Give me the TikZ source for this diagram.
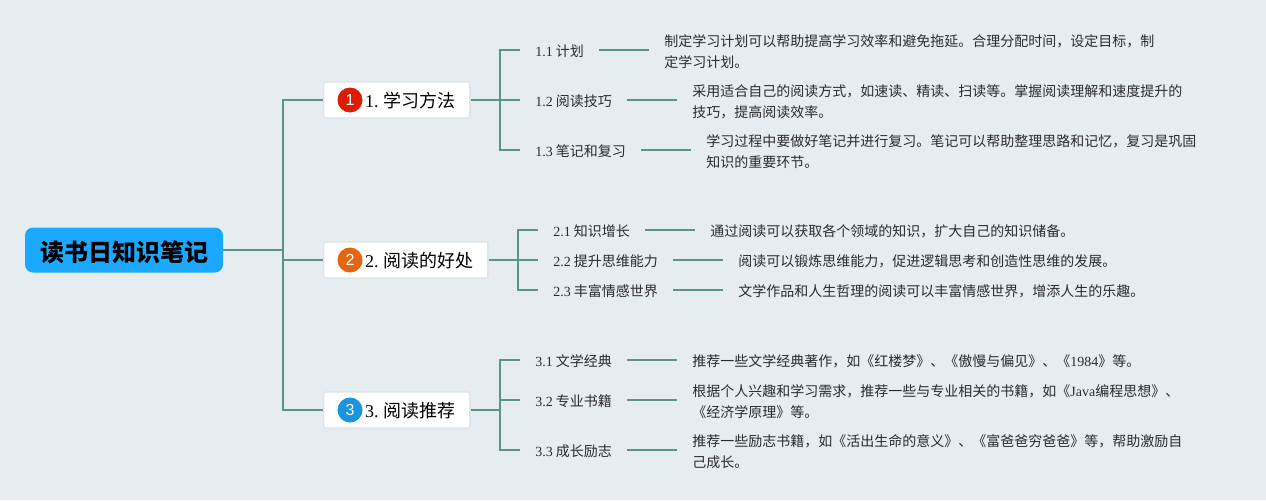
\documentclass[tikz,border=0pt]{standalone}
\usepackage{fontspec}
\usepackage{xcolor}
\usepackage{tikz}
\usetikzlibrary{
positioning,
calc
}
\setmainfont{Noto Sans CJK SC}
\newfontfamily\latinfont{Liberation Serif}
\newfontfamily\badgefont{Liberation Sans}
\newcommand{\lat}[1]{{\latinfont #1}}
\definecolor{bgcolor}{HTML}{E5EDF1}
\definecolor{linecolor}{HTML}{5B9485}
\definecolor{rootcolor}{HTML}{1BA9FF}
\definecolor{textcolor}{HTML}{2B2B2B}
\definecolor{bordercolor}{HTML}{DDE3E6}
\definecolor{badgered}{HTML}{DD1C05}
\definecolor{badgeorange}{HTML}{E4660F}
\definecolor{badgeblue}{HTML}{1A94DC}

\begin{document}
\begin{tikzpicture}[
x=0.75pt,y=-0.75pt,
node distance=37.5pt,
root/.style={
fill=rootcolor,
rounded corners=6pt,
minimum width=148.5pt,
minimum height=33.75pt,
inner sep=0pt,
text height=19pt,
text depth=2pt,
text=black,
font=\fontsize{18}{22}\selectfont\bfseries
},
topic/.style={
draw=bordercolor,
line width=1pt,
fill=white,
rounded corners=1.5pt,
anchor=west,
minimum height=27pt,
inner xsep=10.5pt,
inner ysep=0pt,
text height=13.5pt,
text depth=2pt,
text=black,
font=\fontsize{13.5}{16}\selectfont
},
badge/.style={
circle,
minimum size=18.75pt,
inner sep=0pt,
text=white,
font=\badgefont\fontsize{12}{12}\selectfont
},
sub/.style={
anchor=west,
inner xsep=11.25pt,
inner ysep=0pt,
text height=11.5pt,
text depth=2pt,
text=textcolor,
font=\fontsize{10.5}{14}\selectfont
},
detail/.style={
inner xsep=11.25pt,
inner ysep=0pt,
yshift=-1pt,
align=left,
text=textcolor,
font=\fontsize{10.5}{15.75}\selectfont
},
link/.style={draw=linecolor,line width=1.7pt}
]

\fill[bgcolor] (0,0) rectangle (1266,500);
\useasboundingbox (0,0) rectangle (1266,500);

\node[root] (root) at (124,250) {读书日知识笔记};

\node[topic] (study) at (323,100) {\hspace{20.5pt}\lat{1.} 学习方法};
\node[topic] (benefit) at (323,260) {\hspace{20.5pt}\lat{2.} 阅读的好处};
\node[topic] (books) at (323,410) {\hspace{20.5pt}\lat{3.} 阅读推荐};

\node[badge,fill=badgered] (badgeone) at (350,100) {1};
\node[badge,fill=badgeorange] (badgetwo) at (350,260) {2};
\node[badge,fill=badgeblue] (badgethree) at (350,410) {3};

\node[sub] (plan) at (520,50) {\lat{1.1} 计划};
\node[sub] (skill) at (520,100) {\lat{1.2} 阅读技巧};
\node[sub] (notes) at (520,150) {\lat{1.3} 笔记和复习};
\node[sub] (growth) at (538,230) {\lat{2.1} 知识增长};
\node[sub] (thinking) at (538,260) {\lat{2.2} 提升思维能力};
\node[sub] (emotion) at (538,290) {\lat{2.3} 丰富情感世界};
\node[sub] (classic) at (520,360) {\lat{3.1} 文学经典};
\node[sub] (major) at (520,400) {\lat{3.2} 专业书籍};
\node[sub] (inspire) at (520,450) {\lat{3.3} 成长励志};

\node[detail,right=of plan] (plantext) {制定学习计划可以帮助提高学习效率和避免拖延。合理分配时间，设定目标，制\\定学习计划。};
\node[detail,right=of skill] (skilltext) {采用适合自己的阅读方式，如速读、精读、扫读等。掌握阅读理解和速度提升的\\技巧，提高阅读效率。};
\node[detail,right=of notes] (notestext) {学习过程中要做好笔记并进行复习。笔记可以帮助整理思路和记忆，复习是巩固\\知识的重要环节。};
\node[detail,right=of growth] (growthtext) {通过阅读可以获取各个领域的知识，扩大自己的知识储备。};
\node[detail,right=of thinking] (thinkingtext) {阅读可以锻炼思维能力，促进逻辑思考和创造性思维的发展。};
\node[detail,right=of emotion] (emotiontext) {文学作品和人生哲理的阅读可以丰富情感世界，增添人生的乐趣。};
\node[detail,right=of classic] (classictext) {推荐一些文学经典著作，如《红楼梦》、《傲慢与偏见》、《\lat{1984}》等。};
\node[detail,right=of major] (majortext) {根据个人兴趣和学习需求，推荐一些与专业相关的书籍，如《\lat{Java}编程思想》、\\《经济学原理》等。};
\node[detail,right=of inspire] (inspiretext) {推荐一些励志书籍，如《活出生命的意义》、《富爸爸穷爸爸》等，帮助激励自\\己成长。};

\coordinate (rootfork) at (283,250);
\coordinate (studyfork) at (500,100);
\coordinate (benefitfork) at (518,260);
\coordinate (booksfork) at (500,410);

\draw[link] (root) -- (rootfork);
\draw[link] (rootfork) |- (study);
\draw[link] (rootfork) |- (benefit);
\draw[link] (rootfork) |- (books);

\draw[link] (study) -- (studyfork);
\draw[link] (studyfork) |- (plan);
\draw[link] (studyfork) -- (skill);
\draw[link] (studyfork) |- (notes);

\draw[link] (benefit) -- (benefitfork);
\draw[link] (benefitfork) |- (growth);
\draw[link] (benefitfork) -- (thinking);
\draw[link] (benefitfork) |- (emotion);

\draw[link] (books) -- (booksfork);
\draw[link] (booksfork) |- (classic);
\draw[link] (booksfork) |- (major);
\draw[link] (booksfork) |- (inspire);

\draw[link] (plan) -- (plan -| plantext.west);
\draw[link] (skill) -- (skill -| skilltext.west);
\draw[link] (notes) -- (notes -| notestext.west);
\draw[link] (growth) -- (growth -| growthtext.west);
\draw[link] (thinking) -- (thinking -| thinkingtext.west);
\draw[link] (emotion) -- (emotion -| emotiontext.west);
\draw[link] (classic) -- (classic -| classictext.west);
\draw[link] (major) -- (major -| majortext.west);
\draw[link] (inspire) -- (inspire -| inspiretext.west);

\end{tikzpicture}
\end{document}
